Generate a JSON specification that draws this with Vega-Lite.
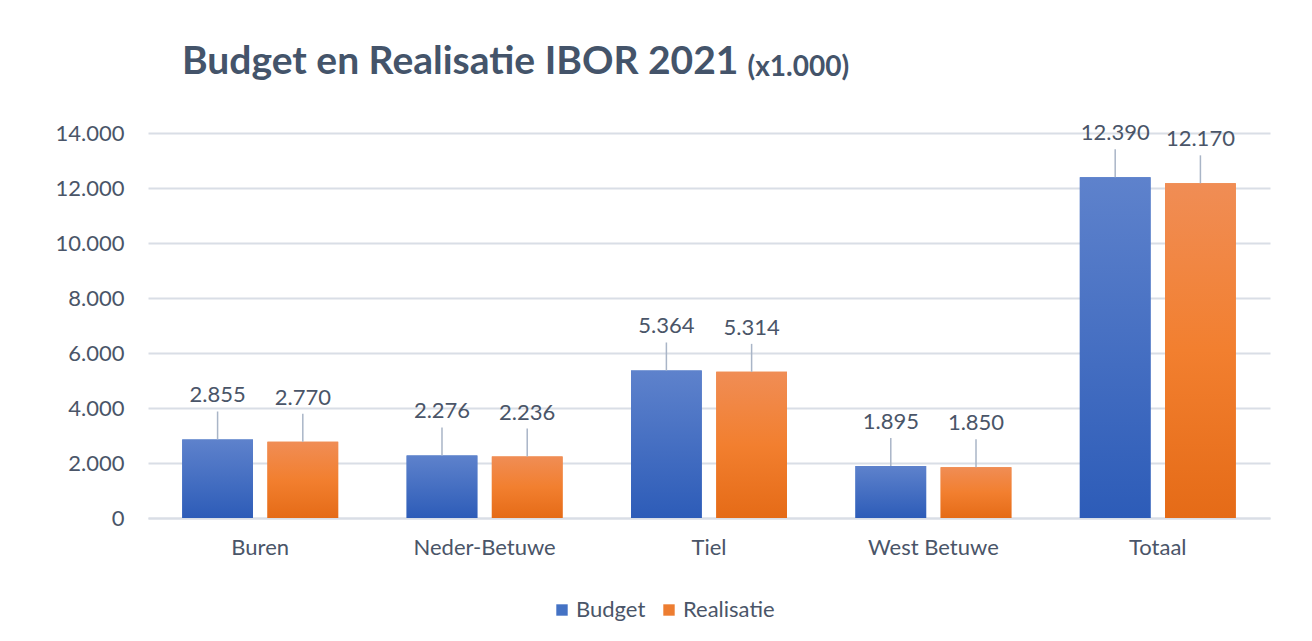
{
  "$schema": "https://vega.github.io/schema/vega-lite/v6.json",
  "width": 1122,
  "height": 385,
  "autosize": {"type": "none"},
  "padding": {"left": 148, "top": 133, "right": 42, "bottom": 123},
  "background": "white",
  "config": {
    "locale": {"number": {"decimal": ",", "thousands": ".", "grouping": [3], "currency": ["€", ""]}},
    "font": "Lato",
    "view": {"stroke": null}
  },
  "title": {
    "text": "Budget en Realisatie IBOR 2021",
    "anchor": "start",
    "frame": "group",
    "dx": 34,
    "offset": -60,
    "baseline": "alphabetic",
    "fontSize": 39,
    "fontWeight": "bold",
    "color": "#44546A",
    "font": "Lato"
  },
  "data": {
    "values": [
      {"regio": "Buren", "serie": "Budget", "waarde": 2855},
      {"regio": "Buren", "serie": "Realisatie", "waarde": 2770},
      {"regio": "Neder-Betuwe", "serie": "Budget", "waarde": 2276},
      {"regio": "Neder-Betuwe", "serie": "Realisatie", "waarde": 2236},
      {"regio": "Tiel", "serie": "Budget", "waarde": 5364},
      {"regio": "Tiel", "serie": "Realisatie", "waarde": 5314},
      {"regio": "West Betuwe", "serie": "Budget", "waarde": 1895},
      {"regio": "West Betuwe", "serie": "Realisatie", "waarde": 1850},
      {"regio": "Totaal", "serie": "Budget", "waarde": 12390},
      {"regio": "Totaal", "serie": "Realisatie", "waarde": 12170}
    ]
  },
  "encoding": {
    "x": {
      "field": "regio",
      "type": "nominal",
      "sort": null,
      "scale": {"paddingInner": 0.305, "paddingOuter": 0.1525},
      "axis": {
        "title": null,
        "labelAngle": 0,
        "labelFontSize": 22,
        "labelColor": "#4A5568",
        "labelPadding": 19,
        "ticks": false,
        "domain": true,
        "domainColor": "#D9DEE6",
        "domainWidth": 2
      }
    },
    "xOffset": {
      "field": "serie",
      "type": "nominal",
      "sort": ["Budget", "Realisatie"],
      "scale": {"paddingInner": 0.17, "paddingOuter": 0}
    },
    "y": {
      "field": "waarde",
      "type": "quantitative",
      "scale": {"domain": [0, 14000], "nice": false},
      "axis": {
        "values": [0, 2000, 4000, 6000, 8000, 10000, 12000, 14000],
        "format": ",d",
        "grid": true,
        "gridColor": "#D9DEE6",
        "gridWidth": 2,
        "domain": false,
        "ticks": false,
        "labelFontSize": 22,
        "labelColor": "#4A5568",
        "labelPadding": 24,
        "title": "(x1.000)",
        "titleAngle": 0,
        "titleAlign": "left",
        "titleBaseline": "alphabetic",
        "titleX": 599,
        "titleY": -58,
        "titleFontSize": 28,
        "titleFontWeight": "bold",
        "titleColor": "#44546A"
      }
    }
  },
  "layer": [
    {
      "mark": {"type": "bar"},
      "encoding": {
        "color": {
          "field": "serie",
          "type": "nominal",
          "scale": {"domain": ["Budget", "Realisatie"], "range": ["#4472C4", "#ED7D31"]},
          "legend": {
            "orient": "none",
            "legendX": 403,
            "legendY": 466,
            "direction": "horizontal",
            "title": null,
            "symbolType": "square",
            "symbolSize": 130,
            "symbolStrokeWidth": 0,
            "symbolOpacity": 1,
            "labelFontSize": 22,
            "labelColor": "#4A5568",
            "labelOffset": 3,
            "columnPadding": 12
          }
        }
      }
    },
    {
      "transform": [{"filter": "datum.serie === 'Budget'"}],
      "mark": {
        "type": "bar",
        "color": {"gradient": "linear", "x1": 0, "y1": 0, "x2": 0, "y2": 1, "stops": [{"offset": 0, "color": "#5E82CC"}, {"offset": 1, "color": "#2D5CB8"}]}
      },
      "encoding": {}
    },
    {
      "transform": [{"filter": "datum.serie === 'Realisatie'"}],
      "mark": {
        "type": "bar",
        "color": {"gradient": "linear", "x1": 0, "y1": 0, "x2": 0, "y2": 1, "stops": [{"offset": 0, "color": "#F08D55"}, {"offset": 0.5, "color": "#F27F2F"}, {"offset": 1, "color": "#E56B17"}]}
      },
      "encoding": {}
    },
    {
      "mark": {"type": "rule", "color": "#A9B5C7", "strokeWidth": 1.5, "y2Offset": -28},
      "encoding": {"y2": {"field": "waarde"}}
    },
    {
      "mark": {"type": "text", "dy": -44, "fontSize": 22, "color": "#4A5568"},
      "encoding": {"text": {"field": "waarde", "type": "quantitative", "format": ",d"}}
    }
  ]
}
